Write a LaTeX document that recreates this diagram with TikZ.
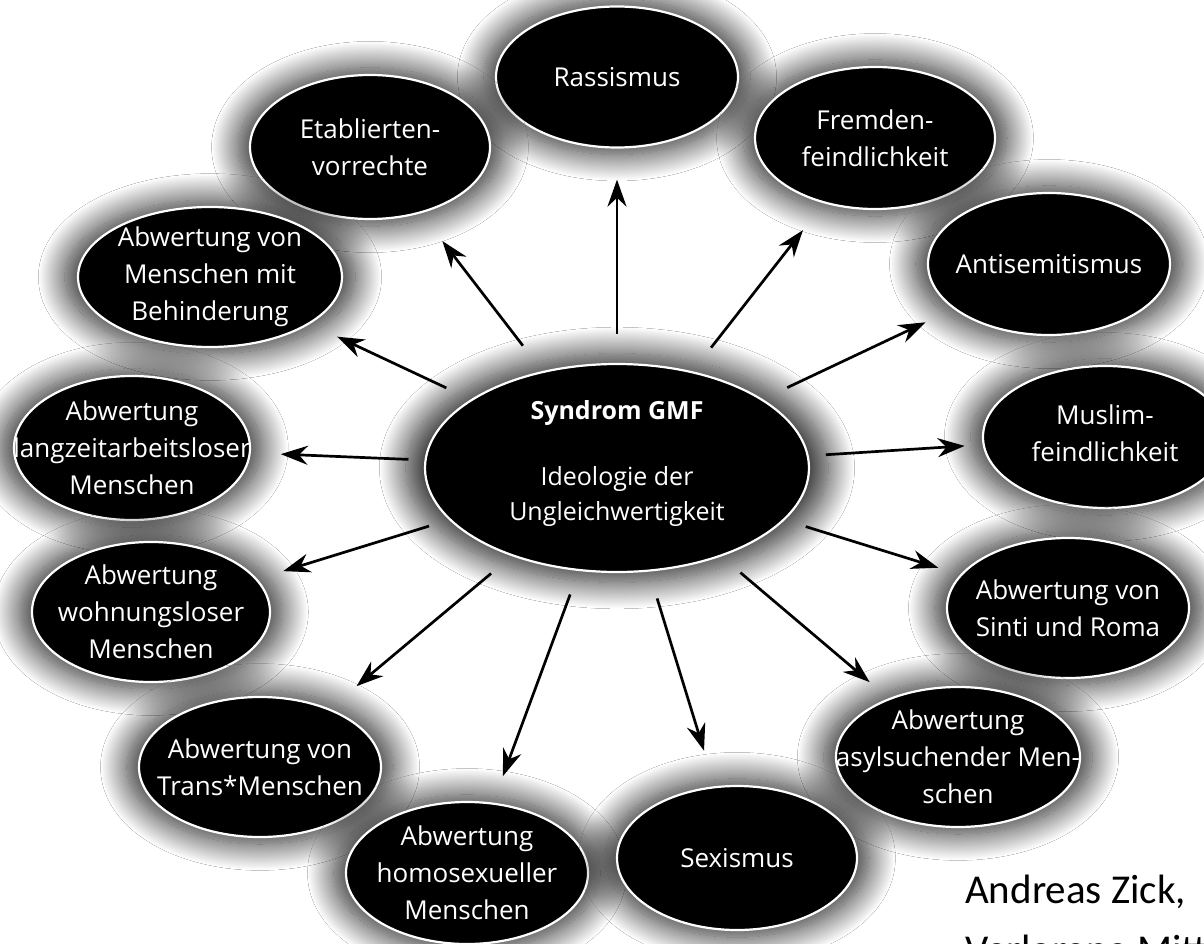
\documentclass[tikz,border=0pt]{standalone}
\usepackage{fontspec}
\setmainfont{Open Sans}
\newfontfamily\creditfont{Carlito}
\usetikzlibrary{shapes.geometric,arrows.meta,shadows.blur}
\tikzset{
  bub/.style={ellipse, fill=black, draw=white, line width=2.2pt, inner sep=0pt,
    minimum width=242pt, minimum height=141pt,
    blur shadow={shadow xshift=0pt, shadow yshift=0pt, shadow blur radius=24pt,
      shadow blur steps=32, shadow opacity=85, shadow scale=1.1}},
  txt/.style={text=white, align=center, font=\fontsize{26}{37}\selectfont, inner sep=0pt},
  ctxt/.style={text=white, align=center, font=\fontsize{25}{35}\selectfont, inner sep=0pt},
  arr/.style={line width=2.7pt, -{Stealth[length=27pt,width=19pt]}},
}
\begin{document}
\begin{tikzpicture}[x=1pt,y=-1pt]
\useasboundingbox (0,0) rectangle (1204,944);
\clip (0,0) rectangle (1204,944);
\fill[white] (0,0) rectangle (1204,944);

\node[bub, minimum width=384pt, minimum height=208pt,
  label={[ctxt, yshift=4pt]center:{{\bfseries Syndrom GMF}\\[31pt]Ideologie der\\Ungleichwertigkeit}}] (C) at (617,468) {};

\node[bub, label={[txt]center:Rassismus}] (R) at (617,77) {};
\node[bub, minimum width=240pt, minimum height=144pt, label={[txt]center:{Etablierten-\\vorrechte}}] (E) at (370,147) {};
\node[bub, minimum width=240pt, minimum height=142pt, label={[txt]center:{Fremden-\\feindlichkeit}}] (F) at (875,138) {};
\node[bub, minimum width=264pt, minimum height=140pt, label={[txt]center:{Abwertung von\\Menschen mit\\Behinderung}}] (B) at (210,277) {};
\node[bub, minimum width=242pt, minimum height=142pt, label={[txt]center:Antisemitismus}] (A) at (1049,264) {};
\node[bub, minimum width=236pt, minimum height=144pt, label={[txt]center:{Abwertung\\langzeitarbeitsloser\\Menschen}}] (L) at (132,448) {};
\node[bub, minimum width=244pt, minimum height=142pt, label={[txt, yshift=4pt]center:{Muslim-\\feindlichkeit}}] (M) at (1105,437) {};
\node[bub, minimum width=238pt, minimum height=140pt, label={[txt]center:{Abwertung\\wohnungsloser\\Menschen}}] (W) at (151,612) {};
\node[bub, minimum width=242pt, minimum height=140pt, label={[txt]center:{Abwertung von\\Sinti und Roma}}] (S) at (1068,608) {};
\node[bub, minimum width=242pt, minimum height=140pt, label={[txt]center:{Abwertung von\\Trans*Menschen}}] (T) at (260,767) {};
\node[bub, minimum width=244pt, minimum height=140pt, label={[txt]center:{Abwertung\\asylsuchender Men-\\schen}}] (Y) at (958,757) {};
\node[bub, minimum width=242pt, minimum height=142pt, label={[txt]center:{Abwertung\\homosexueller\\Menschen}}] (H) at (467,873) {};
\node[bub, minimum width=240pt, minimum height=144pt, label={[txt]center:Sexismus}] (X) at (737,858) {};

\draw[arr, shorten <=29pt, shorten >=31pt] (C) -- (R);
\draw[arr, shorten <=32pt, shorten >=35pt] (C) -- (E);
\draw[arr, shorten <=30pt, shorten >=34pt] (C) -- (F);
\draw[arr, shorten <=27pt, shorten >=30pt] (C) -- (B);
\draw[arr, shorten <=27pt, shorten >=31pt] (C) -- (A);
\draw[arr, shorten <=16pt, shorten >=30pt] (C) -- (L);
\draw[arr, shorten <=17pt, shorten >=18pt] (C) -- (M);
\draw[arr, shorten <=21pt, shorten >=27pt] (C) -- (W);
\draw[arr, shorten <=22pt, shorten >=23pt] (C) -- (S);
\draw[arr, shorten <=27pt, shorten >=35pt] (C) -- (T);
\draw[arr, shorten <=25pt, shorten >=25pt] (C) -- (Y);
\draw[arr, shorten <=25pt, shorten >=28pt] (C) -- (H);
\draw[arr, shorten <=28pt, shorten >=37pt] (C) -- (X);

\node[anchor=base west, align=left, inner sep=0pt, font=\creditfont\fontsize{41}{60}\selectfont] (cred) at (965,963) {Andreas Zick,\\Verlorene Mitte};
\end{tikzpicture}
\end{document}
